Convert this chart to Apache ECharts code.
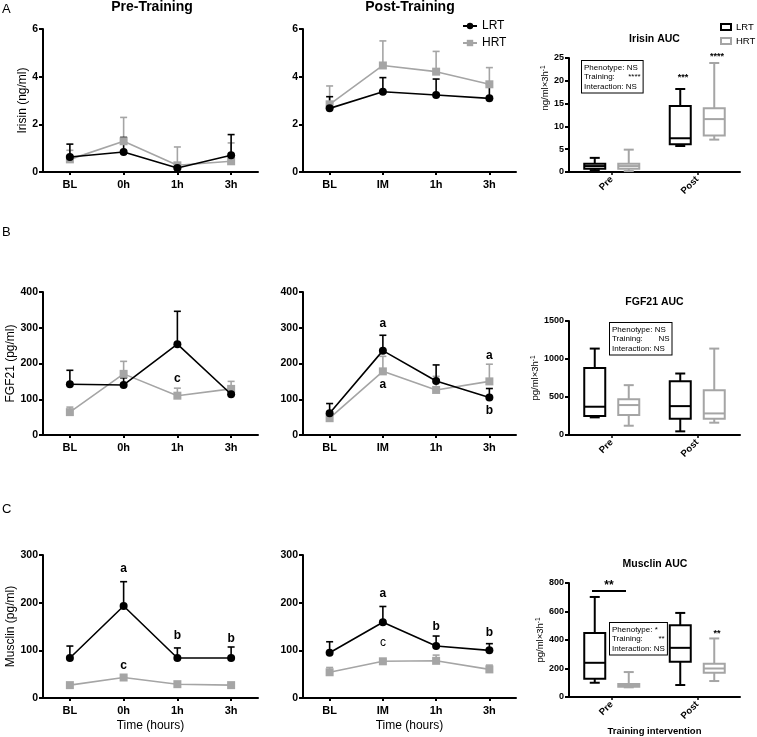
<!DOCTYPE html>
<html><head><meta charset="utf-8">
<script src="https://cdn.jsdelivr.net/npm/echarts@6/dist/echarts.min.js"></script>
<style>html,body{margin:0;padding:0;background:#fff}#c{width:757px;height:737px}</style>
</head><body><div id="c"></div>
<script>
// ---------------- data ----------------
const timePre = ['BL','0h','1h','3h'];
const timePost = ['BL','IM','1h','3h'];
const aucCats = ['Pre','Post'];

const irisinPreLRT = [0.63,0.84,0.17,0.70];
const irisinPreLRTUpper = [1.17,1.45,0.35,1.57];
const irisinPreHRT = [0.53,1.29,0.28,0.45];
const irisinPreHRTUpper = [0.91,2.29,1.05,1.22];
const irisinPostLRT = [2.67,3.37,3.23,3.09];
const irisinPostLRTUpper = [3.16,3.96,3.90,3.68];
const irisinPostHRT = [2.84,4.47,4.21,3.68];
const irisinPostHRTUpper = [3.61,5.50,5.06,4.38];

const fgfPreLRT = [142,140,254,114];
const fgfPreLRTUpper = [181,160,346,127];
const fgfPreHRT = [64,171,110,129];
const fgfPreHRTUpper = [78,206,131,150];
const fgfPostLRT = [61,236,151,105];
const fgfPostLRTUpper = [88,279,196,130];
const fgfPostHRT = [47,178,126,150];
const fgfPostHRTUpper = [58,220,164,198];

const musclinPreLRT = [84,193,84,84];
const musclinPreLRTUpper = [109,244,105,107];
const musclinPreHRT = [27,43,29,27];
const musclinPreHRTUpper = [30,46,31,29];
const musclinPostLRT = [95,159,109,100];
const musclinPostLRTUpper = [118,192,130,114];
const musclinPostHRT = [54,77,78,60];
const musclinPostHRTUpper = [64,80,90,69];

// significance letters: [category index, value, letter]
const fgfPreLetters = [[2,158,'c']];
const fgfPostLetters = [[1,310,'a'],[1,140,'a'],[3,222,'a'],[3,67,'b']];
const musclinPreLetters = [[1,271,'a'],[2,130,'b'],[3,125,'b'],[1,67,'c']];
const musclinPostLetters = [[1,218,'a'],[2,150,'b'],[3,137,'b']];
const musclinPostLettersPlain = [[1,117,'c']];

// AUC boxes: [min, Q1, median, Q3, max] for Pre, Post
const irisinAucLRT = [[0.4,0.7,1.3,1.8,3.1],[5.7,6.1,7.4,14.5,18.2]];
const irisinAucHRT = [[0.2,0.7,1.3,1.8,4.9],[7.1,8.0,11.6,14.0,23.9]];
const fgfAucLRT = [[232,249,372,883,1137],[48,214,380,708,809]];
const fgfAucHRT = [[122,262,394,472,656],[162,214,284,590,1137]];
const musclinAucLRT = [[100,128,240,450,702],[84,247,345,504,590]];
const musclinAucHRT = [[68,72,80,92,175],[112,170,200,233,411]];

const irisinStats = ['Phenotype: NS','Training:      ****','Interaction: NS'];
const fgfStats = ['Phenotype: NS','Training:       NS','Interaction: NS'];
const musclinStats = ['Phenotype: *','Training:       **','Interaction: NS'];

// ---------------- chart ----------------
const FF = '"Liberation Sans", Arial, Helvetica, sans-serif';
const BLACK = '#000', GREY = '#a5a5a5';

const layout = [
  {left:43, top:29, width:215, height:143},
  {left:303, top:29, width:213, height:143},
  {left:569, top:58, width:171, height:114},
  {left:43, top:292, width:215, height:143},
  {left:303, top:292, width:213, height:143},
  {left:569, top:321, width:171, height:114},
  {left:43, top:555, width:215, height:143},
  {left:303, top:555, width:213, height:143},
  {left:569, top:583, width:171, height:115}
];

const axisLine = {show:true, lineStyle:{color:'#000', width:2}};
function yAx(gi, max, interval, name, gap, fs, extraName){
  return {gridIndex:gi, type:'value', min:0, max, interval,
    axisLine, axisTick:{show:true, length:4, lineStyle:{color:'#000', width:2}},
    axisLabel:{color:'#000', fontFamily:FF, fontWeight:'bold', fontSize:fs||10.5, margin:5, formatter:v=>String(v)},
    splitLine:{show:false},
    name:name||'', nameLocation:'middle', nameGap:gap||0,
    nameTextStyle:Object.assign({color:'#000', fontFamily:FF, fontSize:12}, extraName||{})};
}
function xLine(gi, cats, name){
  return {gridIndex:gi, type:'category', data:cats, axisLine,
    axisTick:{show:true, alignWithLabel:true, length:3, lineStyle:{color:'#000', width:2}},
    axisLabel:{color:'#000', fontFamily:FF, fontWeight:'bold', fontSize:11, margin:7},
    name:name||'', nameLocation:'middle', nameGap:22,
    nameTextStyle:{color:'#000', fontFamily:FF, fontSize:12}};
}
function xAuc(gi, name){
  return {gridIndex:gi, type:'category', data:aucCats, axisLine,
    axisTick:{show:true, alignWithLabel:true, length:3, lineStyle:{color:'#000', width:1.5}},
    axisLabel:{color:'#000', fontFamily:FF, fontWeight:'bold', fontSize:9.5, rotate:45, margin:6},
    name:name||'', nameLocation:'middle', nameGap:29,
    nameTextStyle:{color:'#000', fontFamily:FF, fontSize:9.5, fontWeight:'bold'}};
}
const aucName = '{a|ng/ml×3h}{s|-1}';
const aucNamePg = '{a|pg/ml×3h}{s|-1}';
const aucRich = {rich:{a:{fontFamily:FF, fontSize:9.5, color:'#000'}, s:{fontFamily:FF, fontSize:6.5, color:'#000', verticalAlign:'top'}}};

function lineSeries(name, gi, vals, color, symbol){
  return {type:'line', name, xAxisIndex:gi, yAxisIndex:gi, data:vals, symbol, symbolSize:8,
    itemStyle:{color}, lineStyle:{color, width:1.6}, z:name==='LRT'?6:5, animation:false};
}
function errSeries(gi, vals, upper, color, z){
  return {type:'custom', xAxisIndex:gi, yAxisIndex:gi, data:vals.map((v,i)=>[i,v,upper[i]]),
    encode:{x:0, y:[1,2]}, z, silent:true, animation:false,
    renderItem(params, api){
      const a = api.coord([api.value(0), api.value(1)]);
      const b = api.coord([api.value(0), api.value(2)]);
      const st = {stroke:color, lineWidth:1.6};
      return {type:'group', children:[
        {type:'line', shape:{x1:a[0], y1:a[1], x2:b[0], y2:b[1]}, style:st},
        {type:'line', shape:{x1:b[0]-3.5, y1:b[1], x2:b[0]+3.5, y2:b[1]}, style:st}
      ]};
    }};
}
function letterSeries(gi, labels, weight){
  return {type:'custom', xAxisIndex:gi, yAxisIndex:gi, data:labels.map(l=>[l[0], l[1]]),
    z:10, silent:true, animation:false,
    renderItem(params, api){
      const p = api.coord([api.value(0), api.value(1)]);
      return {type:'text', x:p[0], y:p[1], style:{text:labels[params.dataIndex][2], align:'center',
        verticalAlign:'middle', font:weight+' 12px '+FF, fill:'#000'}};
    }};
}
function boxSeries(gi, data, color, offset){
  return {type:'custom', xAxisIndex:gi, yAxisIndex:gi, data:data.map((d,i)=>[i].concat(d)),
    encode:{x:0, y:[1,2,3,4,5]}, z:4, silent:true, animation:false,
    renderItem(params, api){
      const c = api.value(0);
      const p = [1,2,3,4,5].map(k=>api.coord([c, api.value(k)]));
      const x = p[0][0] + offset, hw = 10.5, cw = 5;
      const st = {stroke:color, lineWidth:2};
      return {type:'group', children:[
        {type:'line', shape:{x1:x, y1:p[0][1], x2:x, y2:p[1][1]}, style:st},
        {type:'line', shape:{x1:x, y1:p[3][1], x2:x, y2:p[4][1]}, style:st},
        {type:'line', shape:{x1:x-cw, y1:p[0][1], x2:x+cw, y2:p[0][1]}, style:st},
        {type:'line', shape:{x1:x-cw, y1:p[4][1], x2:x+cw, y2:p[4][1]}, style:st},
        {type:'rect', shape:{x:x-hw, y:p[3][1], width:2*hw, height:p[1][1]-p[3][1]}, style:{stroke:color, lineWidth:2, fill:'#fff'}},
        {type:'line', shape:{x1:x-hw, y1:p[2][1], x2:x+hw, y2:p[2][1]}, style:st}
      ]};
    }};
}

const series = [
  lineSeries('LRT', 0, irisinPreLRT, BLACK, 'circle'),
  lineSeries('HRT', 0, irisinPreHRT, GREY, 'rect'),
  errSeries(0, irisinPreLRT, irisinPreLRTUpper, BLACK, 4), errSeries(0, irisinPreHRT, irisinPreHRTUpper, GREY, 3),
  lineSeries('LRT', 1, irisinPostLRT, BLACK, 'circle'), lineSeries('HRT', 1, irisinPostHRT, GREY, 'rect'),
  errSeries(1, irisinPostLRT, irisinPostLRTUpper, BLACK, 4), errSeries(1, irisinPostHRT, irisinPostHRTUpper, GREY, 3),
  boxSeries(2, irisinAucLRT, BLACK, -17), boxSeries(2, irisinAucHRT, GREY, 17),

  lineSeries('LRT', 3, fgfPreLRT, BLACK, 'circle'), lineSeries('HRT', 3, fgfPreHRT, GREY, 'rect'),
  errSeries(3, fgfPreLRT, fgfPreLRTUpper, BLACK, 4), errSeries(3, fgfPreHRT, fgfPreHRTUpper, GREY, 3),
  letterSeries(3, fgfPreLetters, 'bold'),
  lineSeries('LRT', 4, fgfPostLRT, BLACK, 'circle'), lineSeries('HRT', 4, fgfPostHRT, GREY, 'rect'),
  errSeries(4, fgfPostLRT, fgfPostLRTUpper, BLACK, 4), errSeries(4, fgfPostHRT, fgfPostHRTUpper, GREY, 3),
  letterSeries(4, fgfPostLetters, 'bold'),
  boxSeries(5, fgfAucLRT, BLACK, -17), boxSeries(5, fgfAucHRT, GREY, 17),

  lineSeries('LRT', 6, musclinPreLRT, BLACK, 'circle'), lineSeries('HRT', 6, musclinPreHRT, GREY, 'rect'),
  errSeries(6, musclinPreLRT, musclinPreLRTUpper, BLACK, 4), errSeries(6, musclinPreHRT, musclinPreHRTUpper, GREY, 3),
  letterSeries(6, musclinPreLetters, 'bold'),
  lineSeries('LRT', 7, musclinPostLRT, BLACK, 'circle'), lineSeries('HRT', 7, musclinPostHRT, GREY, 'rect'),
  errSeries(7, musclinPostLRT, musclinPostLRTUpper, BLACK, 4), errSeries(7, musclinPostHRT, musclinPostHRTUpper, GREY, 3),
  letterSeries(7, musclinPostLetters, 'bold'), letterSeries(7, musclinPostLettersPlain, 'normal'),
  boxSeries(8, musclinAucLRT, BLACK, -17), boxSeries(8, musclinAucHRT, GREY, 17)
];

const T = (x, y, text, font, extra) => ({type:'text', x, y, silent:true,
  style:Object.assign({text, font, fill:'#000'}, extra||{})});
const statBox = (x, y, lines) => T(x, y, lines.join('\n'), '8px '+FF,
  {lineHeight:9.5, padding:[2,2,1,2], borderColor:'#000', borderWidth:1, backgroundColor:'#fff'});
const C = {align:'center', verticalAlign:'middle'};

const graphic = [
  T(2, 3, 'A', '13px '+FF), T(2, 226, 'B', '13px '+FF), T(2, 503, 'C', '13px '+FF),
  T(152, 7, 'Pre-Training', 'bold 14px '+FF, C),
  T(410, 7, 'Post-Training', 'bold 14px '+FF, C),
  T(654.5, 39, 'Irisin AUC', 'bold 10.5px '+FF, C),
  T(654.5, 302, 'FGF21 AUC', 'bold 10.5px '+FF, C),
  T(655, 564, 'Musclin AUC', 'bold 10.5px '+FF, C),
  statBox(582, 61, irisinStats),
  statBox(610, 323, fgfStats),
  statBox(610, 623, musclinStats),
  T(683, 78, '***', 'bold 9px '+FF, C),
  T(717, 57, '****', 'bold 9px '+FF, C),
  T(717, 634, '**', 'bold 9px '+FF, C),
  T(609, 586, '**', 'bold 12px '+FF, C),
  {type:'line', silent:true, shape:{x1:592, y1:591, x2:626, y2:591}, style:{stroke:'#000', lineWidth:2}}
];

const option = {
  animation:false,
  backgroundColor:'#fff',
  grid: layout.map(g=>Object.assign({containLabel:false}, g)),
  xAxis: [
    xLine(0, timePre), xLine(1, timePost), xAuc(2),
    xLine(3, timePre), xLine(4, timePost), xAuc(5),
    xLine(6, timePre, 'Time (hours)'), xLine(7, timePost, 'Time (hours)'), xAuc(8, 'Training intervention')
  ],
  yAxis: [
    yAx(0, 6, 2, 'Irisin (ng/ml)', 13), yAx(1, 6, 2),
    yAx(2, 25, 5, aucName, 15, 9, Object.assign({padding:[0,0,0,54]}, aucRich)),
    yAx(3, 400, 100, 'FGF21 (pg/ml)', 23), yAx(4, 400, 100),
    yAx(5, 1500, 500, aucNamePg, 26, 9, aucRich),
    yAx(6, 300, 100, 'Musclin (pg/ml)', 25), yAx(7, 300, 100),
    yAx(8, 800, 200, aucNamePg, 23, 9, aucRich)
  ],
  legend: [
    {data:['LRT','HRT'], left:462, top:20, orient:'vertical', itemWidth:14, itemHeight:8, itemGap:5,
     selectedMode:false, padding:0, textStyle:{color:'#000', fontFamily:FF, fontSize:12}},
    {data:[{name:'LRT', icon:'rect', itemStyle:{color:'#fff', borderColor:'#000', borderWidth:2}},
           {name:'HRT', icon:'rect', itemStyle:{color:'#fff', borderColor:GREY, borderWidth:2}}],
     left:720, top:22, orient:'vertical', itemWidth:10, itemHeight:6, itemGap:4,
     selectedMode:false, padding:0, textStyle:{color:'#000', fontFamily:FF, fontSize:9.5}}
  ],
  graphic: {elements: graphic},
  series
};
const chart = echarts.init(document.getElementById('c'), null, {renderer:'canvas'});
chart.setOption(option);
</script></body></html>
